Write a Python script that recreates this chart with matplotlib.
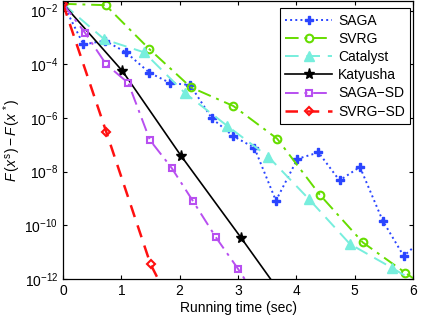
import matplotlib
matplotlib.use("Agg")
import matplotlib.pyplot as plt
import numpy as np

plt.rcParams['font.family'] = ['Liberation Sans', 'DejaVu Sans']
plt.rcParams['mathtext.fontset'] = 'custom'
plt.rcParams['mathtext.rm'] = 'Liberation Sans'
plt.rcParams['mathtext.it'] = 'Liberation Sans:italic'
plt.rcParams['mathtext.default'] = 'regular'

# ---- data ----
saga_x = [0, 0.35, 0.72, 1.08, 1.48, 1.84, 2.18, 2.55, 2.92, 3.28, 3.65, 4.02, 4.38, 4.74, 5.09, 5.48, 5.84, 6.2]
saga_y = [1.8e-2, 5.5e-4, 7.6e-4, 2.8e-4, 4.9e-5, 2.0e-5, 1.7e-5, 9.8e-7, 2.1e-7, 7.8e-8, 8.3e-10,
          3.0e-8, 5.2e-8, 4.7e-9, 1.5e-8, 1.5e-10, 7.2e-12, 3.5e-11]

svrg_x = [0, 0.73, 1.48, 2.19, 2.92, 3.67, 4.40, 5.14, 5.87, 6.6]
svrg_y = [1.8e-2, 1.6e-2, 3.7e-4, 1.4e-5, 2.8e-6, 1.7e-7, 1.4e-9, 2.3e-11, 1.7e-12, 1.3e-13]

cat_x = [0, 0.71, 1.39, 2.09, 2.82, 3.52, 4.22, 4.92, 5.64, 6.34]
cat_y = [1.8e-2, 8.5e-4, 2.8e-4, 8.5e-6, 5.0e-7, 3.6e-8, 9.3e-10, 2.0e-11, 2.6e-12, 3.2e-13]

kat_x = [0, 1.02, 2.02, 3.05, 4.05]
kat_y = [1.8e-2, 5.6e-5, 4.0e-8, 3.5e-11, 3.2e-14]

sagasd_x = [0, 0.377, 0.74, 1.12, 1.49, 1.86, 2.23, 2.62, 3.0, 3.38]
sagasd_y = [1.8e-2, 1.5e-3, 1.0e-4, 2.0e-5, 1.5e-7, 1.4e-8, 7.9e-10, 3.6e-11, 2.4e-12, 1.3e-13]

svrgsd_x = [0, 0.74, 1.50, 2.25]
svrgsd_y = [1.8e-2, 3.1e-7, 3.6e-12, 2.2e-15]

x_ticks = [0, 1, 2, 3, 4, 5, 6]
y_ticks = [1e-12, 1e-10, 1e-8, 1e-6, 1e-4, 1e-2]

W, H = 422, 318
fig = plt.figure(figsize=(W / 100, H / 100), dpi=100)
L, R, T, B = 63, 413, 1, 279
ax = fig.add_axes([L / W, 1 - B / H, (R - L) / W, (B - T) / H])

lw = 1.4
ax.plot(saga_x, saga_y, linestyle=':', color='#2a45ff', lw=lw, marker='P', ms=6,
        mec='#2a45ff', mfc='#2a45ff', label='SAGA')
ax.plot(svrg_x, svrg_y, linestyle='-.', color='#66dd00', lw=lw, marker='o', ms=5.5,
        mfc='none', mew=1.5, label='SVRG', dashes=(7, 3, 1.5, 3))
ax.plot(cat_x, cat_y, linestyle='--', color='#77eedd', lw=lw, marker='^', ms=7,
        mfc='#77eedd', label='Catalyst', dashes=(7, 4))
ax.plot(kat_x, kat_y, linestyle='-', color='black', lw=1.2, marker='*', ms=8, label='Katyusha')
ax.plot(sagasd_x, sagasd_y, linestyle='-.', color='#b84ff0', lw=lw, marker='s', ms=5,
        mfc='none', mew=1.5, label='SAGA\u2212SD', dashes=(7, 3, 1.5, 3))
ax.plot(svrgsd_x, svrgsd_y, linestyle='--', color='#ff1010', lw=1.8, marker='D', ms=4.5,
        mfc='none', mew=1.5, label='SVRG\u2212SD', dashes=(5, 3.5))

ax.set_yscale('log')
ax.set_xlim(0, 6)
ax.set_ylim(1e-12, 10 ** -1.64)
ax.set_xticks(x_ticks)
ax.set_yticks(y_ticks)
ax.minorticks_off()
ax.tick_params(direction='in', top=True, right=True, length=3, width=0.8, labelsize=10)
for s in ax.spines.values():
    s.set_linewidth(0.9)

ax.set_xlabel('Running time (sec)', fontsize=10, labelpad=2)
ax.set_ylabel(r'$\mathit{F}\,(\mathit{x}^{\,s}) - \mathit{F}\,(\mathit{x}^{\,*})$', fontsize=10, labelpad=1)

leg = ax.legend(loc='upper right', bbox_to_anchor=(0.992, 0.974), borderaxespad=0,
                fancybox=False, edgecolor='black', framealpha=1, fontsize=10,
                numpoints=1, handlelength=3.4, labelspacing=0.3, handletextpad=0.4,
                borderpad=0.4)
leg.get_frame().set_linewidth(0.8)

fig.savefig('out.png', dpi=100)
